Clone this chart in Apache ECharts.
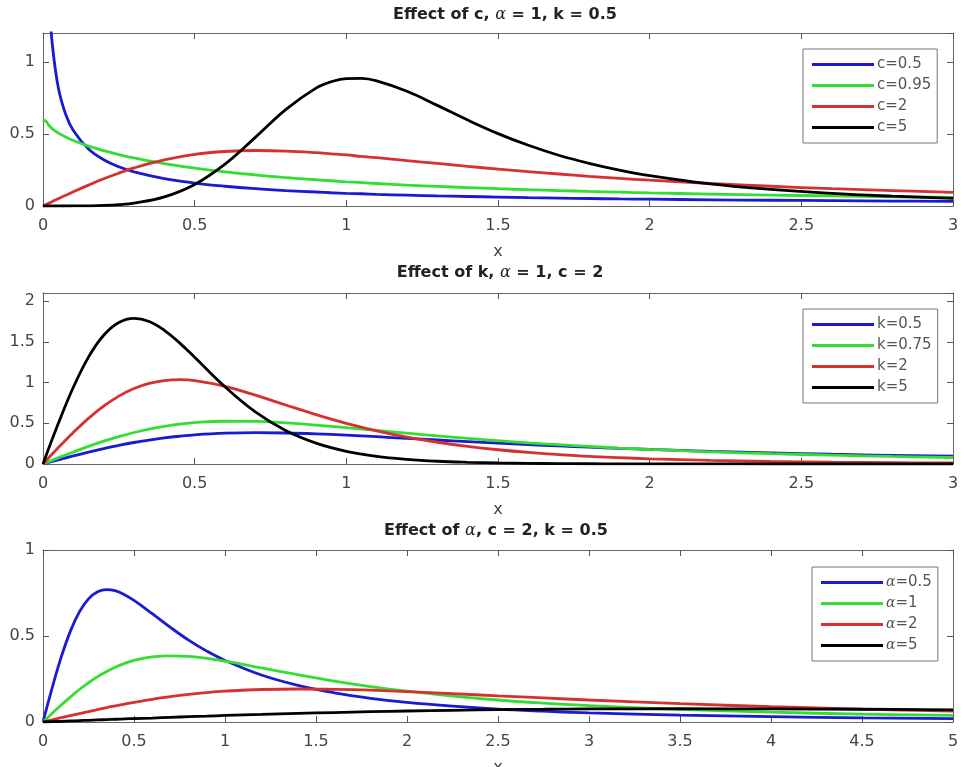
<!DOCTYPE html>
<html>
<head>
<meta charset="utf-8">
<script src="https://cdn.jsdelivr.net/npm/echarts@6/dist/echarts.min.js"></script>
<style>html,body{margin:0;padding:0;background:#fff;}#chart{width:964px;height:767px;}</style>
</head>
<body>
<div id="chart"></div>
<script>
// ---- Data ----
const X1 = [0, 0.01, 0.02, 0.03, 0.05, 0.075, 0.1, 0.15, 0.2, 0.25, 0.3, 0.4, 0.5, 0.6, 0.7, 0.8, 0.9, 0.95, 1.0, 1.05, 1.1, 1.2, 1.3, 1.4, 1.5, 1.6, 1.7, 1.8, 1.9, 2.0, 2.2, 2.4, 2.6, 2.8, 3.0];
const c05  = [null, 2.167, 1.450, 1.136, 0.826, 0.635, 0.524, 0.395, 0.321, 0.272, 0.237, 0.190, 0.159, 0.137, 0.120, 0.107, 0.097, 0.092, 0.088, 0.085, 0.081, 0.075, 0.070, 0.066, 0.062, 0.058, 0.055, 0.052, 0.049, 0.047, 0.043, 0.040, 0.037, 0.034, 0.032];
const c095 = [0.600, 0.587, 0.557, 0.537, 0.507, 0.478, 0.454, 0.415, 0.384, 0.357, 0.333, 0.294, 0.263, 0.237, 0.216, 0.197, 0.182, 0.175, 0.168, 0.162, 0.156, 0.145, 0.136, 0.128, 0.120, 0.113, 0.107, 0.101, 0.096, 0.091, 0.083, 0.076, 0.070, 0.064, 0.060];
const c2   = [0, 0.010, 0.020, 0.030, 0.050, 0.074, 0.099, 0.145, 0.189, 0.228, 0.264, 0.320, 0.358, 0.378, 0.385, 0.381, 0.370, 0.362, 0.354, 0.344, 0.335, 0.315, 0.295, 0.275, 0.256, 0.238, 0.222, 0.206, 0.192, 0.179, 0.156, 0.137, 0.120, 0.107, 0.095];
const c5   = [0, 0, 0, 0, 0.00002, 0.00008, 0.00025, 0.0013, 0.0040, 0.0098, 0.0202, 0.0630, 0.149, 0.290, 0.476, 0.669, 0.818, 0.862, 0.884, 0.885, 0.868, 0.796, 0.698, 0.596, 0.502, 0.421, 0.352, 0.296, 0.249, 0.211, 0.154, 0.115, 0.087, 0.068, 0.053];

const X2 = [0, 0.05, 0.1, 0.15, 0.2, 0.25, 0.3, 0.35, 0.4, 0.45, 0.5, 0.6, 0.7, 0.8, 0.9, 1.0, 1.1, 1.2, 1.3, 1.4, 1.5, 1.6, 1.7, 1.8, 1.9, 2.0, 2.2, 2.4, 2.6, 2.8, 3.0];
const k05  = [0, 0.050, 0.099, 0.145, 0.189, 0.228, 0.264, 0.294, 0.320, 0.341, 0.358, 0.378, 0.385, 0.381, 0.370, 0.354, 0.335, 0.315, 0.295, 0.275, 0.256, 0.238, 0.222, 0.206, 0.192, 0.179, 0.156, 0.137, 0.120, 0.107, 0.095];
const k075 = [0, 0.075, 0.147, 0.216, 0.280, 0.337, 0.387, 0.429, 0.463, 0.489, 0.508, 0.525, 0.523, 0.505, 0.478, 0.446, 0.412, 0.378, 0.345, 0.314, 0.286, 0.260, 0.237, 0.216, 0.196, 0.179, 0.150, 0.127, 0.108, 0.093, 0.080];
const k2   = [0, 0.199, 0.388, 0.561, 0.711, 0.834, 0.927, 0.990, 1.025, 1.035, 1.024, 0.954, 0.846, 0.725, 0.607, 0.500, 0.408, 0.330, 0.267, 0.216, 0.175, 0.142, 0.116, 0.094, 0.078, 0.064, 0.044, 0.031, 0.022, 0.016, 0.012];
const k5   = [0, 0.493, 0.942, 1.313, 1.581, 1.738, 1.789, 1.750, 1.642, 1.488, 1.311, 0.948, 0.640, 0.411, 0.256, 0.156, 0.094, 0.057, 0.034, 0.021, 0.013, 0.008, 0.005, 0.003, 0.002, 0.001, 0.0006, 0.0003, 0.0001, 0.0001, 0];

const X3 = [0, 0.05, 0.1, 0.15, 0.2, 0.25, 0.3, 0.35, 0.4, 0.45, 0.5, 0.6, 0.7, 0.8, 0.9, 1.0, 1.2, 1.4, 1.6, 1.8, 2.0, 2.25, 2.5, 2.75, 3.0, 3.5, 4.0, 4.5, 5.0];
const a05 = [0, 0.197, 0.377, 0.527, 0.640, 0.716, 0.757, 0.770, 0.762, 0.739, 0.707, 0.630, 0.550, 0.476, 0.412, 0.358, 0.273, 0.213, 0.170, 0.138, 0.114, 0.092, 0.075, 0.063, 0.053, 0.040, 0.031, 0.024, 0.020];
const a1  = [0, 0.050, 0.099, 0.145, 0.189, 0.228, 0.264, 0.294, 0.320, 0.341, 0.358, 0.378, 0.385, 0.381, 0.370, 0.354, 0.315, 0.275, 0.238, 0.206, 0.179, 0.151, 0.128, 0.110, 0.095, 0.073, 0.057, 0.046, 0.038];
const a2  = [0, 0.012, 0.025, 0.037, 0.049, 0.061, 0.072, 0.084, 0.094, 0.104, 0.114, 0.132, 0.147, 0.160, 0.171, 0.179, 0.189, 0.192, 0.190, 0.185, 0.177, 0.165, 0.152, 0.140, 0.128, 0.107, 0.089, 0.075, 0.064];
const a5  = [0, 0.002, 0.004, 0.006, 0.008, 0.010, 0.012, 0.014, 0.016, 0.018, 0.020, 0.023, 0.027, 0.031, 0.034, 0.038, 0.044, 0.050, 0.055, 0.060, 0.064, 0.068, 0.072, 0.074, 0.076, 0.077, 0.076, 0.074, 0.071];

const titles = ['Effect of c, {a|α} = 1, k = 0.5', 'Effect of k, {a|α} = 1, c = 2', 'Effect of {a|α}, c = 2, k = 0.5'];
const names1 = ['c=0.5', 'c=0.95', 'c=2', 'c=5'];
const names2 = ['k=0.5', 'k=0.75', 'k=2', 'k=5'];
const names3 = ['α=0.5', 'α=1', 'α=2', 'α=5'];
const xMax = [3, 3, 5];
const yMax = [1.2, 2.1, 1];

// ---- Styling ----
const COLORS = ['#1a1ad0', '#33dd33', '#d63030', '#000000'];
const FONT = 'DejaVu Sans';
const grids = [
  {left: 43, right: 11, top: 33, height: 173, containLabel: false, outerBoundsMode: 'none'},
  {left: 43, right: 11, top: 293, height: 171, containLabel: false, outerBoundsMode: 'none'},
  {left: 43, right: 11, top: 550, height: 172, containLabel: false, outerBoundsMode: 'none'}
];
const titlePos = [{x: 505, y: 7}, {x: 500, y: 265}, {x: 496, y: 523}];
const legendPos = [{l: 803, t: 49}, {l: 803, t: 309}, {l: 812, t: 567}];
const nameGaps = [38, 38, 38];

function pairs(xs, ys) { return xs.map((x, i) => [x, ys[i]]); }

const axisLineStyle = {color: '#666', width: 1};
const tickStyle = {show: true, inside: true, length: 6, lineStyle: {color: '#555'}};
const labelStyle = {fontFamily: FONT, fontSize: 16, color: '#444'};

const xAxes = [], yAxes = [];
for (let g = 0; g < 3; g++) {
  xAxes.push({
    type: 'value', gridIndex: g, min: 0, max: xMax[g], interval: 0.5, position: 'bottom',
    axisLine: {show: true, onZero: false, lineStyle: axisLineStyle}, axisTick: tickStyle,
    axisLabel: Object.assign({margin: 12, formatter: v => String(v)}, labelStyle),
    splitLine: {show: false},
    name: 'x', nameLocation: 'middle', nameGap: nameGaps[g],
    nameTextStyle: {fontFamily: FONT, fontSize: 16, color: '#444'}
  });
  yAxes.push({
    type: 'value', gridIndex: g, min: 0, max: yMax[g], interval: 0.5, position: 'left',
    axisLine: {show: true, onZero: false, lineStyle: axisLineStyle}, axisTick: tickStyle,
    axisLabel: Object.assign({margin: 8, formatter: v => String(v), showMaxLabel: yMax[g] % 0.5 === 0}, labelStyle),
    splitLine: {show: false}
  });
}
for (let g = 0; g < 3; g++) {
  xAxes.push({
    type: 'value', gridIndex: g, min: 0, max: xMax[g], interval: 0.5, position: 'top',
    axisLine: {show: true, onZero: false, lineStyle: axisLineStyle}, axisTick: tickStyle,
    axisLabel: {show: false}, splitLine: {show: false}
  });
  yAxes.push({
    type: 'value', gridIndex: g, min: 0, max: yMax[g], interval: 0.5, position: 'right',
    axisLine: {show: true, onZero: false, lineStyle: axisLineStyle}, axisTick: tickStyle,
    axisLabel: {show: false}, splitLine: {show: false}
  });
}

const seriesDefs = [
  [X1, [c05, c095, c2, c5], names1],
  [X2, [k05, k075, k2, k5], names2],
  [X3, [a05, a1, a2, a5], names3]
];
const series = [];
seriesDefs.forEach(([xs, ysList, names], g) => {
  ysList.forEach((ys, i) => {
    series.push({
      type: 'line', name: names[i], xAxisIndex: g, yAxisIndex: g,
      data: pairs(xs, ys), showSymbol: false, symbol: 'none', smooth: 0.4,
      clip: true, color: COLORS[i],
      lineStyle: {width: 2.8, color: COLORS[i]},
      z: 2 + i
    });
  });
});

const alphaRich = {a: {fontFamily: 'DejaVu Serif', fontStyle: 'italic', fontWeight: 'normal', fontSize: 16, color: '#222'}};

const option = {
  backgroundColor: '#fff',
  animation: false,
  title: titles.map((t, g) => ({
    text: t, left: titlePos[g].x, top: titlePos[g].y, textAlign: 'center', padding: 0,
    textStyle: {fontFamily: FONT, fontSize: 16, fontWeight: 'bold', color: '#222', rich: alphaRich}
  })),
  grid: grids,
  xAxis: xAxes,
  yAxis: yAxes,
  legend: [names1, names2, names3].map((names, g) => ({
    data: names, orient: 'vertical', left: legendPos[g].l, top: legendPos[g].t,
    icon: 'rect', itemWidth: 62, itemHeight: 3, itemGap: 6,
    padding: [8, 6, 8, 9], borderColor: '#777', borderWidth: 1, backgroundColor: '#fff',
    selectedMode: false,
    formatter: n => n.replace('α', '{a|α}'),
    textStyle: {fontFamily: FONT, fontSize: 15, color: '#555', padding: [0, 0, 0, -2],
      rich: {a: {fontFamily: 'DejaVu Serif', fontStyle: 'italic', fontSize: 14, color: '#555'}}}
  })),
  series: series
};

const chart = echarts.init(document.getElementById('chart'), null, {renderer: 'canvas'});
chart.setOption(option);
</script>
</body>
</html>
